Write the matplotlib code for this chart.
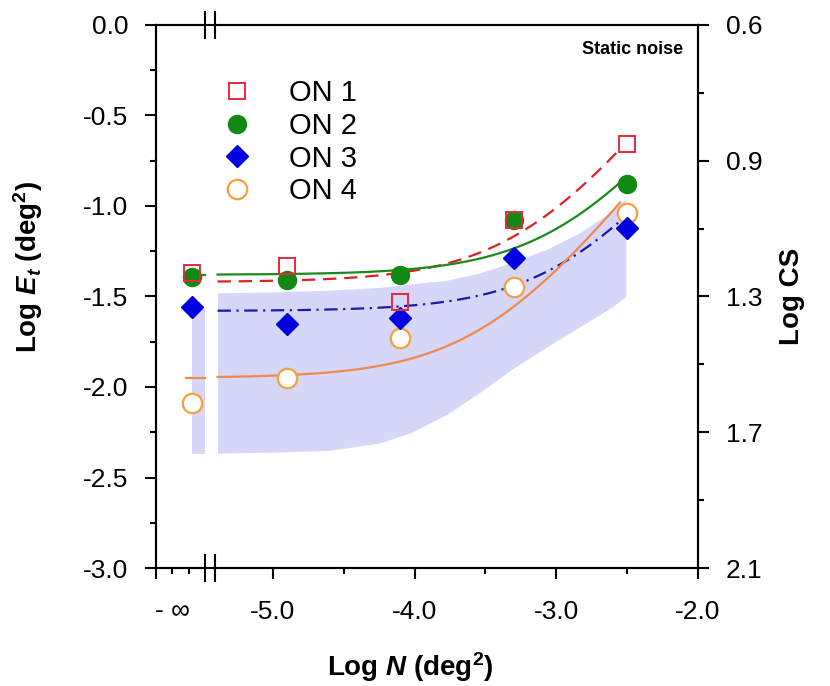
import matplotlib
matplotlib.use("Agg")
import numpy as np
import matplotlib.pyplot as plt
from matplotlib.lines import Line2D

plt.rcParams['font.family'] = ['Liberation Sans', 'DejaVu Sans']
plt.rcParams['mathtext.fontset'] = 'custom'
plt.rcParams['mathtext.rm'] = 'Liberation Sans:bold'
plt.rcParams['mathtext.it'] = 'Liberation Sans:bold:italic'
plt.rcParams['mathtext.bf'] = 'Liberation Sans:bold'

# ---------------- data ----------------
series_labels = ['ON 1', 'ON 2', 'ON 3', 'ON 4']
log_n = [-4.9, -4.1, -3.3, -2.5]          # finite Log N values
# first value of each series is at Log N = -infinity
on1 = [-1.37, -1.33, -1.53, -1.08, -0.66]
on2 = [-1.39, -1.41, -1.38, -1.08, -0.88]
on3 = [-1.56, -1.65, -1.62, -1.29, -1.12]
on4 = [-2.09, -1.95, -1.73, -1.45, -1.04]

# noise-model fit parameters: log E = log10(10**floor + 10**(logN + gain))
fit_floor = [-1.42, -1.38, -1.58, -1.95]
fit_gain = [1.776, 1.52, 1.30, 1.52]

# shaded band
shade_x = [-5.39, -5.0, -4.6, -4.25, -4.02, -3.77, -3.54, -3.31, -3.07, -2.84, -2.61, -2.51]
shade_hi = [-1.48, -1.475, -1.465, -1.45, -1.43, -1.41, -1.37, -1.31, -1.24, -1.15, -1.03, -0.96]
shade_lo = [-2.365, -2.36, -2.35, -2.31, -2.25, -2.15, -2.03, -1.90, -1.78, -1.67, -1.56, -1.50]
shade_inf = [-1.57, -2.37]   # band at -infinity (top, bottom)

x_ticks = [-5.0, -4.0, -3.0, -2.0]
x_ticklabels = ['-5.0', '-4.0', '-3.0', '-2.0']
y_ticks = [0.0, -0.5, -1.0, -1.5, -2.0, -2.5, -3.0]
y_ticklabels = ['0.0', '-0.5', '-1.0', '-1.5', '-2.0', '-2.5', '-3.0']
cs_ticks = [0.0, -0.75, -1.5, -2.25, -3.0]
cs_ticklabels = ['0.6', '0.9', '1.3', '1.7', '2.1']

# ---------------- layout constants ----------------
XMIN, XMAX = -5.824, -2.0
INF_POS = -5.57              # where the -infinity column is drawn
INF_SEG = (-5.61, -5.48)     # short fit segment at -infinity
BREAK = (-5.479, -5.408)     # axis break marks
FIT_RANGE = (-5.39, -2.55)
TICK_FS = 19

colors_edge = ['#e8283c', '#118811', '#0000e0', '#f5a040']
fit_colors = ['#dd2222', '#1a8a1a', '#1a1aa8', '#f08a4a']
fit_styles = [(0, (6, 3.5)), '-', (0, (6, 2.5, 1, 2.5)), '-']

fig = plt.figure(figsize=(8.3, 6.86), dpi=100)
ax = fig.add_axes([0.188, 0.172, 0.653, 0.7916])
ax.set_xlim(XMIN, XMAX)
ax.set_ylim(-3.0, 0.0)

# shaded band
ax.fill_between(shade_x, shade_lo, shade_hi, color='#d6d6f8', lw=0, zorder=1)
ax.fill_between([INF_POS, BREAK[0]], [shade_inf[1]] * 2, [shade_inf[0]] * 2,
                color='#d6d6f8', lw=0, zorder=1)

# fit curves
xs = np.linspace(FIT_RANGE[0], FIT_RANGE[1], 300)
for fl, g, c, ls in zip(fit_floor, fit_gain, fit_colors, fit_styles):
    ys = np.log10(10 ** fl + 10 ** (xs + g))
    ax.plot(xs, ys, color=c, lw=1.6, ls=ls, zorder=2)
    ax.plot(list(INF_SEG), [fl, fl], color=c, lw=1.6, ls=ls, zorder=2)

xp = [INF_POS] + log_n
h4, = ax.plot(xp, on4, ls='none', marker='o', ms=14, mfc='white', mec=colors_edge[3], mew=1.6, zorder=3)
h3, = ax.plot(xp, on3, ls='none', marker='D', ms=11, mfc=colors_edge[2], mec=colors_edge[2], zorder=3)
h2, = ax.plot(xp, on2, ls='none', marker='o', ms=13, mfc=colors_edge[1], mec=colors_edge[1], zorder=3)
h1, = ax.plot(xp, on1, ls='none', marker='s', ms=11, mfc='none', mec=colors_edge[0], mew=1.4, zorder=4)
h1l = Line2D([], [], ls='none', marker='s', ms=11, mfc='white', mec=colors_edge[0], mew=1.4)

leg = ax.legend([h1l, h2, h3, h4], series_labels, loc='upper left',
                bbox_to_anchor=(0.125, 0.900), frameon=False, fontsize=21,
                handlelength=0.9, handletextpad=1.35, labelspacing=0.16,
                borderpad=0, borderaxespad=0, numpoints=1)

ax.text(0.972, 0.954, 'Static noise', transform=ax.transAxes, ha='right', va='center',
        fontsize=13, fontweight='bold')

# ticks
ax.set_xticks([XMIN] + x_ticks)
ax.set_xticklabels([''] + x_ticklabels)
ax.set_xticks([-5.71, -5.59, -4.5, -3.5, -2.5], labels=['- \u221e', '', '', '', ''], minor=True)
ax.set_yticks(y_ticks)
ax.set_yticklabels(y_ticklabels)
ax.set_yticks(np.arange(-2.75, 0, 0.5), minor=True)
ax.tick_params(which='major', direction='out', length=8, width=1.5, labelsize=TICK_FS, pad=12)
ax.tick_params(which='minor', direction='out', length=4, width=1.5, labelsize=TICK_FS)
ax.tick_params(axis='x', which='minor', pad=18)
ax.tick_params(axis='x', which='major', pad=15)
ax.tick_params(top=False, right=False)

for s in ax.spines.values():
    s.set_linewidth(1.5)

ax2 = ax.twinx()
ax2.set_ylim(-3.0, 0.0)
ax2.set_yticks(cs_ticks)
ax2.set_yticklabels(cs_ticklabels)
ax2.set_yticks([-0.375, -1.125, -1.875, -2.625], minor=True)
ax2.tick_params(which='major', direction='out', length=8, width=1.5, labelsize=TICK_FS, pad=12)
ax2.tick_params(which='minor', direction='out', length=4, width=1.5)
for s in ax2.spines.values():
    s.set_linewidth(1.5)

# axis break marks
tr = ax.get_xaxis_transform()
for yb in (0.0, 1.0):
    ax.plot(list(BREAK), [yb, yb], color='white', lw=3, transform=tr, clip_on=False, zorder=10)
    for xb in BREAK:
        ax.plot([xb, xb], [yb - 0.024, yb + 0.024], color='black', lw=1.5,
                transform=tr, clip_on=False, zorder=11)

ax.set_xlabel(r'Log $N$ (deg$^2$)', fontsize=20, fontweight='bold')
ax.xaxis.set_label_coords(0.47, -0.152)
ax.set_ylabel(r'Log $E_t$ (deg$^2$)', fontsize=20, fontweight='bold')
ax.yaxis.set_label_coords(-0.205, 0.554)
ax2.set_ylabel('Log CS', fontsize=20, fontweight='bold', labelpad=12)

fig.savefig('out.png', dpi=100)
